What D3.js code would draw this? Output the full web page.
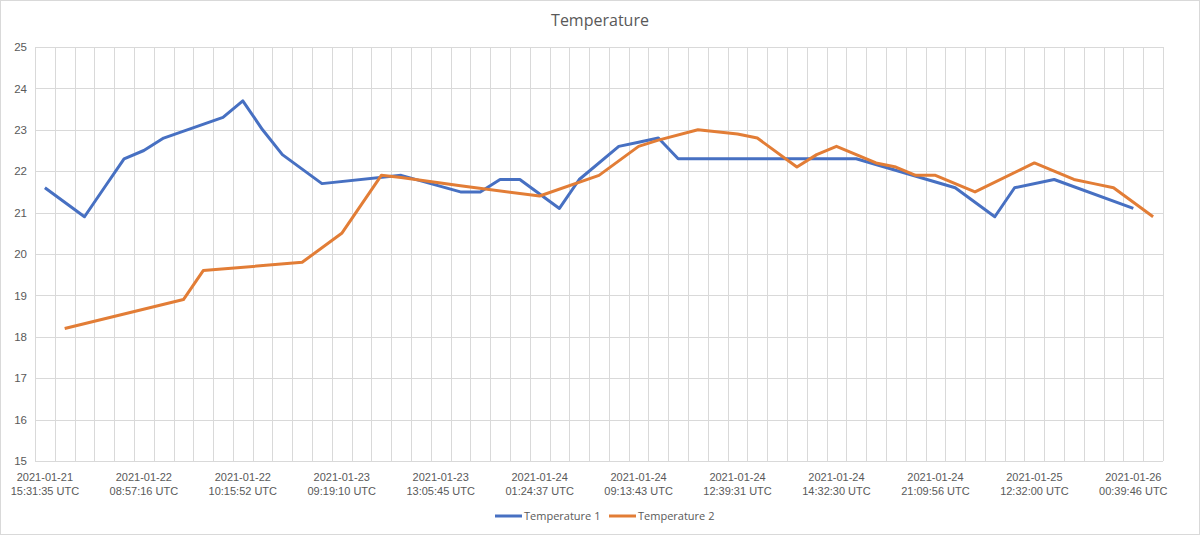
<!DOCTYPE html>
<html>
<head>
<meta charset="utf-8">
<script src="https://cdn.jsdelivr.net/npm/d3@7"></script>
<style>
  html, body { margin: 0; padding: 0; background: #fff; }
  svg { display: block; font-family: "Open Sans", "Noto Sans", sans-serif; }
  .tick text { fill: #595959; }
</style>
</head>
<body>
<svg id="chart" width="1200" height="535"></svg>
<script>
// 57 个类别（时间点），只有每 5 个显示标签
var categoryCount = 57;

var tickLabels = [
  "2021-01-21|15:31:35 UTC", "2021-01-22|08:57:16 UTC", "2021-01-22|10:15:52 UTC",
  "2021-01-23|09:19:10 UTC", "2021-01-23|13:05:45 UTC", "2021-01-24|01:24:37 UTC",
  "2021-01-24|09:13:43 UTC", "2021-01-24|12:39:31 UTC", "2021-01-24|14:32:30 UTC",
  "2021-01-24|21:09:56 UTC", "2021-01-25|12:32:00 UTC", "2021-01-26|00:39:46 UTC"
];

var seriesNames = ["Temperature 1", "Temperature 2"];
var seriesColors = ["#4770C2", "#E27D36"];

// 空值表示该时间点没有读数，折线直接连过去
var temp1 = [
  21.6, null, 20.9, 21.6, 22.3, 22.5, 22.8, null, null, 23.3,
  23.7, 23.0, 22.4, null, 21.7, null, null, null, 21.9, null,
  null, 21.5, 21.5, 21.8, 21.8, null, 21.1, 21.8, null, 22.6,
  22.7, 22.8, 22.3, 22.3, 22.3, 22.3, 22.3, 22.3, 22.3, 22.3,
  22.3, 22.3, null, null, null, null, 21.6, null, 20.9, 21.6,
  null, 21.8, null, null, null, 21.1, null
];

var temp2 = [
  null, 18.2, null, null, null, null, null, 18.9, 19.6, null,
  null, null, null, 19.8, null, 20.5, 21.2, 21.9, 21.85, null,
  null, 21.65, null, null, null, 21.4, null, null, 21.9, null,
  22.6, 22.75, null, 23.0, null, 22.9, 22.8, null, 22.1, 22.4,
  22.6, null, 22.2, 22.1, 21.9, 21.9, null, 21.5, null, null,
  22.2, null, 21.8, 21.7, 21.6, null, 20.9
];

var yTicks = d3.range(15, 26, 1);

var svg = d3.select("#chart"),
  W = 1200, H = 535,
  plotL = 35, plotR = 1163, plotT = 47, plotB = 461;

// 外框
svg.append("rect")
  .attr("x", 0.5).attr("y", 0.5)
  .attr("width", W - 1).attr("height", H - 1)
  .attr("fill", "#fff").attr("stroke", "#d9d9d9");

var x = d3.scaleBand()
  .domain(d3.range(categoryCount))
  .range([plotL, plotR]);

var y = d3.scaleLinear()
  .domain([15, 25])
  .range([plotB, plotT]);

// 网格
var grid = svg.append("g").attr("stroke", "#d9d9d9").attr("stroke-width", 1);

grid.selectAll("line.h")
  .data(yTicks)
  .enter().append("line")
  .attr("class", "h")
  .attr("x1", plotL).attr("x2", plotR)
  .attr("y1", function (d) { return Math.round(y(d)) + 0.5; })
  .attr("y2", function (d) { return Math.round(y(d)) + 0.5; });

grid.selectAll("line.v")
  .data(d3.range(categoryCount + 1))
  .enter().append("line")
  .attr("class", "v")
  .attr("x1", function (i) { return Math.round(plotL + i * x.step()) + 0.5; })
  .attr("x2", function (i) { return Math.round(plotL + i * x.step()) + 0.5; })
  .attr("y1", plotT).attr("y2", plotB);

// y 轴
var yAxis = svg.append("g")
  .attr("transform", "translate(" + (plotL - 8) + ",0)")
  .call(d3.axisLeft(y).tickValues(yTicks).tickSize(0).tickPadding(0));
yAxis.select(".domain").remove();
yAxis.selectAll("text").attr("font-size", 11.5);

// x 轴，两行标签
var xAxis = svg.append("g")
  .attr("transform", "translate(0," + plotB + ")")
  .call(d3.axisBottom(x)
    .tickValues(d3.range(0, categoryCount, 5))
    .tickSize(0)
    .tickFormat(function (i) { return tickLabels[i / 5]; }));
xAxis.select(".domain").remove();
xAxis.selectAll(".tick text")
  .attr("font-size", 11)
  .attr("y", 0)
  .attr("dy", null)
  .each(function (d) {
    var parts = tickLabels[d / 5].split("|"),
      t = d3.select(this).text(null);
    t.append("tspan").attr("x", 0).attr("y", 20).text(parts[0]);
    t.append("tspan").attr("x", 0).attr("y", 34).text(parts[1]);
  });

// 折线
var line = d3.line()
  .x(function (d) { return x(d.i) + x.bandwidth() / 2; })
  .y(function (d) { return y(d.v); });

[temp1, temp2].forEach(function (s, k) {
  var pts = s.map(function (v, i) { return { i: i, v: v }; })
    .filter(function (d) { return d.v != null; });
  svg.append("path")
    .datum(pts)
    .attr("fill", "none")
    .attr("stroke", seriesColors[k])
    .attr("stroke-width", 3)
    .attr("stroke-linejoin", "round")
    .attr("d", line);
});

// 标题
svg.append("text")
  .attr("x", 600).attr("y", 26)
  .attr("text-anchor", "middle")
  .attr("font-size", 16)
  .attr("fill", "#595959")
  .text("Temperature");

// 图例
var legendX = [495, 609];
var legend = svg.selectAll("g.legend")
  .data(seriesNames)
  .enter().append("g")
  .attr("class", "legend")
  .attr("transform", function (d, i) { return "translate(" + legendX[i] + ",516)"; });
legend.append("line")
  .attr("x1", 0).attr("x2", 27)
  .attr("stroke", function (d, i) { return seriesColors[i]; })
  .attr("stroke-width", 3);
legend.append("text")
  .attr("x", 29).attr("dy", "0.35em")
  .attr("font-size", 11)
  .attr("fill", "#595959")
  .text(function (d) { return d; });
</script>
</body>
</html>
